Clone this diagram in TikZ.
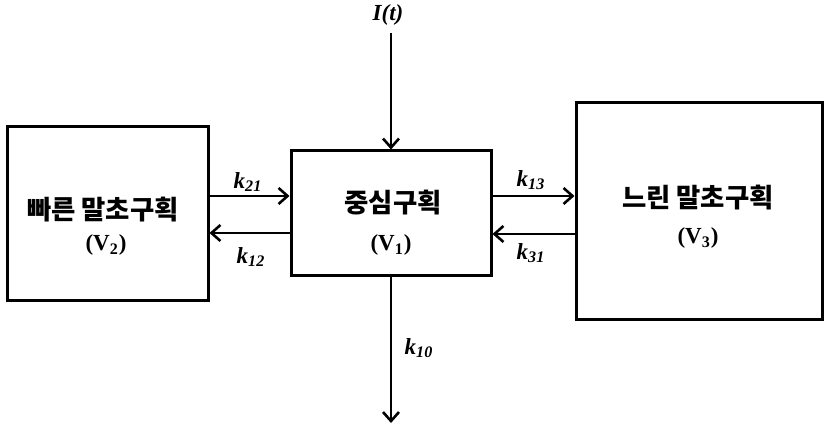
\documentclass[tikz,border=0pt]{standalone}
\usepackage{fontspec}
\setmainfont{Liberation Serif}
\newfontfamily\kr{Noto Sans CJK KR}
\usetikzlibrary{arrows.meta,positioning}

\begin{document}
\begin{tikzpicture}[
  x=0.5pt, y=-0.5pt,
  every node/.style={inner sep=0pt},
  comp/.style={rectangle, draw, line width=1.5pt},
  cname/.style={font=\kr\bfseries\fontsize{13.2}{16}\selectfont},
  vol/.style={font=\bfseries\fontsize{11.5}{14}\selectfont},
  rate/.style={font=\bfseries\itshape\fontsize{11.5}{14}\selectfont},
  arr/.style={-{Straight Barb[length=4.5pt,width=8pt]}, line width=1.3pt},
]
\useasboundingbox (0,0) rectangle (827,431);

\node[comp, minimum width=100.5pt, minimum height=87pt] (v2) at (107.5,214) {};
\node[comp, minimum width=100pt, minimum height=62.5pt] (v1) at (391,213.5) {};
\node[comp, minimum width=123pt, minimum height=108.5pt] (v3) at (699,211.5) {};

\node[cname] (v2name) at (103,210) {빠른 말초구획};
\node[vol] (v2vol) at (106,245) {(V\textsubscript{2})};
\node[cname] (v1name) at (393,203) {중심구획};
\node[vol] (v1vol) at (391,245) {(V\textsubscript{1})};
\node[cname] (v3name) at (698,198) {느린 말초구획};
\node[vol] (v3vol) at (698,238) {(V\textsubscript{3})};

\node[rate] (it) at (388,15) {I(t)};
\coordinate (in) at (391,33);
\coordinate (out) at (391,423);

\draw[arr] (in) -- (v1.north);
\draw[arr] (v1.south) -- (out);
\draw[arr] (v2.east |- 0,196) -- (v1.west |- 0,196);
\draw[arr] (v1.west |- 0,233) -- (v2.east |- 0,233);
\draw[arr] (v1.east |- 0,196) -- (v3.west |- 0,196);
\draw[arr] (v3.west |- 0,234) -- (v1.east |- 0,234);

\node[rate] (k21) at (248,182) {k\textsubscript{21}};
\node[rate] (k12) at (251,257) {k\textsubscript{12}};
\node[rate] (k13) at (531,180) {k\textsubscript{13}};
\node[rate] (k31) at (531,253) {k\textsubscript{31}};
\node[rate] (k10) at (419,348) {k\textsubscript{10}};

\end{tikzpicture}
\end{document}
